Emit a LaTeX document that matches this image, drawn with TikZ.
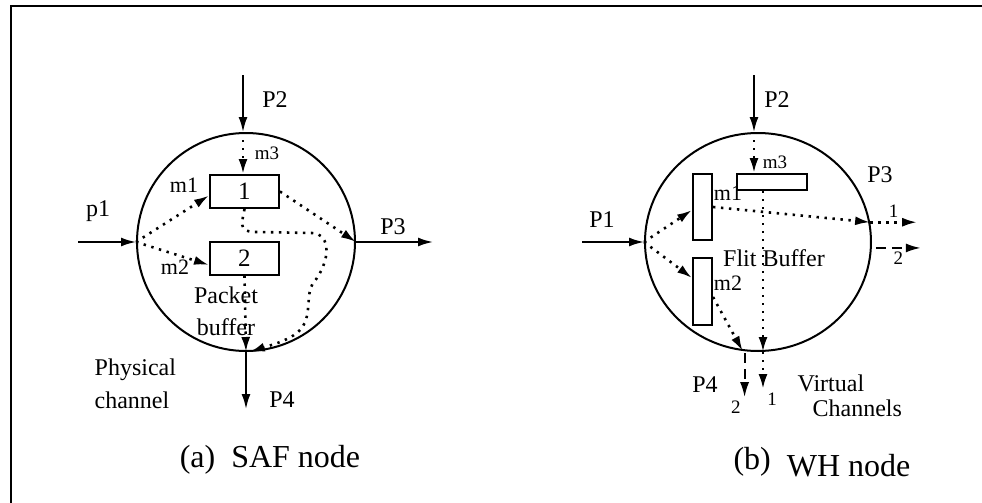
\documentclass[tikz,border=0pt]{standalone}
\usepackage{fontspec}
\setmainfont{Liberation Serif}
\usetikzlibrary{arrows.meta,shapes.geometric}

\begin{document}
\begin{tikzpicture}[x=0.5pt, y=-0.5pt, >={Latex[length=7.5pt,width=4.5pt]}, line width=1pt, font=\fontsize{12}{14}\selectfont]
\tikzset{
	router/.style={draw, ellipse, inner sep=0pt},
	buf/.style={draw, inner sep=0pt, font=\fontsize{12.5}{14}\selectfont},
	flow/.style={->, line width=1.3pt, dash pattern=on 1.2pt off 2.8pt},
	vc/.style={->, dash pattern=on 5pt off 3pt},
	small/.style={font=\fontsize{11}{12}\selectfont, inner sep=1pt},
	tiny/.style={font=\fontsize{9.5}{10}\selectfont, inner sep=1.5pt},
	caption/.style={font=\fontsize{16}{18}\selectfont}
}
\useasboundingbox (0,0) rectangle (982,503);
\draw[line width=1.2pt] (11,503) -- (11,6) -- (982,6);

% (a) store-and-forward node
\node[router, minimum width=109pt, minimum height=109pt] (saf) at (246,242) {};
\node[buf, minimum width=34.5pt, minimum height=16.5pt] (b1) at (244.5,191.5) {1};
\node[buf, minimum width=34.5pt, minimum height=16.5pt] (b2) at (244.5,258) {2};
\coordinate (p1a) at (78,242);
\coordinate (p2a) at (243,75);

\draw[->] (p1a) -- (saf.west);
\draw[->] (p2a) -- (p2a |- saf.north);
\draw[->] (saf.east) -- ++(77,0);
\draw[->] (saf.south) -- ++(0,57);

\draw[flow] (p2a |- saf.north) -- (p2a |- b1.north);
\draw[flow] (saf.west) -- ([yshift=-2pt]b1.west);
\draw[flow] (saf.west) -- ([yshift=-3.5pt]b2.west);
\draw[flow] (b1.east) -- (saf.east);
\draw[flow] (b2.south) -- (saf.south);
\draw[flow] (b1.south) -- (242,222) .. controls (242,231) and (248,232) .. (258,232)
	-- (312,233) .. controls (332,234) and (330,262) .. (314,282)
	.. controls (304,294) and (314,318) .. (298,332)
	.. controls (288,341) and (268,346) .. (saf.-88);

\node (lp2) at (275,100) {P2};
\node[tiny] (lm3) at (267,153) {m3};
\node[small] (lm1) at (184,185) {m1};
\node[small] (lm2) at (175,267) {m2};
\node (lp1) at (98,211) {p1};
\node (lp3) at (393,227) {P3};
\node (lp4) at (282,400) {P4};
\node[align=center, font=\fontsize{12}{16}\selectfont] (pkt) at (226,311) {Packet\\buffer};
\node[align=left, anchor=west, font=\fontsize{12}{16.5}\selectfont] (phy) at (87,384) {Physical\\channel};
\node[caption] (capa) at (270,460) {(a)\ \ SAF node};

% (b) wormhole node
\node[router, minimum width=113pt, minimum height=109pt] (wh) at (758,242) {};
\node[buf, minimum width=35pt, minimum height=8pt] (hb) at (772,182) {};
\node[buf, minimum width=9.5pt, minimum height=33pt] (vb1) at (702.5,207) {};
\node[buf, minimum width=9.5pt, minimum height=33.5pt] (vb2) at (702.5,291) {};
\coordinate (p1b) at (582,242);
\coordinate (p2b) at (754,75);
\path (hb.south) ++(-4.5pt,0) coordinate (hbo);

\draw[->] (p1b) -- (wh.west);
\draw[->] (p2b) -- (p2b |- wh.north);
\draw[flow] (p2b |- wh.north) -- (p2b |- hb.north);
\draw[flow] (wh.west) -- ([yshift=-1.5pt]vb1.west);
\draw[flow] (wh.west) -- ([yshift=6.5pt]vb2.west);
\draw[flow] (vb1.east) -- (wh.10);
\draw[flow] (wh.10) -- ++(47,0) node[tiny, midway, above] {1};
\draw[vc] ([xshift=2pt]wh.-3) -- ++(45,0) node[tiny, midway, below] {2};
\draw[flow] (hbo) -- (hbo |- wh.south);
\draw[flow] (hbo |- wh.south) -- ++(0,37) node[tiny, below right] {1};
\draw[flow] ([yshift=-3pt]vb2.east) -- (wh.-98);
\draw[vc] ([yshift=-1pt]wh.-97) -- ++(0,44) node[tiny, below left] {2};

\node (rp2) at (777,100) {P2};
\node[tiny] (rm3) at (775,162) {m3};
\node[small] (rm1) at (728,193) {m1};
\node[small] (rm2) at (728,283) {m2};
\node (rp1) at (602,220) {P1};
\node (rp3) at (880,175) {P3};
\node (rp4) at (705,385) {P4};
\node (flit) at (774,258) {Flit Buffer};
\node[align=left, anchor=west, font=\fontsize{12}{12.5}\selectfont] (virt) at (790,396) {Virtual\\\hspace{7.5pt}Channels};
\node[caption] (capb) at (822,462) {\raisebox{3.5pt}{(b)}\ \ WH node};

\end{tikzpicture}
\end{document}
